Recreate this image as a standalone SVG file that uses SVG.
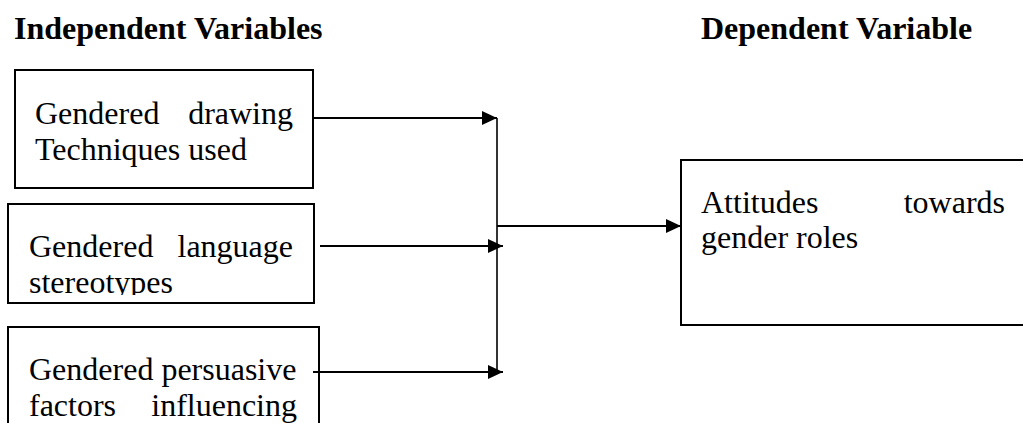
<svg xmlns="http://www.w3.org/2000/svg" width="1023" height="423" viewBox="0 0 1023 423">
  <style>
    .box { fill: #fff; stroke: #000; stroke-width: 2; }
    .txt { font-family: "Liberation Serif", "Times New Roman", serif; font-size: 32px; fill: #000; }
    .head { font-family: "Liberation Serif", "Times New Roman", serif; font-size: 32px; font-weight: bold; fill: #000; }
    .wire { fill: none; stroke: #000; stroke-width: 2; }
    .trunk { fill: none; stroke: #333; stroke-width: 2; }
  </style>
  <defs>
    <marker id="arrow" markerUnits="userSpaceOnUse" markerWidth="15" markerHeight="14" refX="15" refY="7" orient="auto">
      <path d="M0,0 L15,7 L0,14 z" fill="#000"/>
    </marker>
    <clipPath id="clip-language">
      <rect x="8" y="204" width="306" height="91"/>
    </clipPath>
  </defs>

  <rect width="1023" height="423" fill="#fff"/>

  <!-- column headings -->
  <text class="head" x="14" y="39">Independent Variables</text>
  <text class="head" x="701" y="39">Dependent Variable</text>

  <!-- independent variable: drawing techniques -->
  <g id="node-drawing">
    <rect class="box" x="15" y="70" width="298" height="118"/>
    <text class="txt" x="35" y="124">Gendered</text>
    <text class="txt" x="293" y="124" text-anchor="end">drawing</text>
    <text class="txt" x="35" y="160">Techniques used</text>
  </g>

  <!-- independent variable: language stereotypes -->
  <g id="node-language">
    <rect class="box" x="8" y="204" width="306" height="99"/>
    <g clip-path="url(#clip-language)">
      <text class="txt" x="29" y="257">Gendered</text>
      <text class="txt" x="293" y="257" text-anchor="end">language</text>
      <text class="txt" x="29" y="293">stereotypes</text>
    </g>
  </g>

  <!-- independent variable: persuasive factors -->
  <g id="node-persuasive">
    <rect class="box" x="8" y="327" width="311" height="110"/>
    <text class="txt" x="29" y="380">Gendered persuasive</text>
    <text class="txt" x="29" y="416">factors</text>
    <text class="txt" x="297" y="416" text-anchor="end">influencing</text>
  </g>

  <!-- dependent variable -->
  <g id="node-attitudes">
    <rect class="box" x="681" y="160" width="360" height="165"/>
    <text class="txt" x="701" y="213">Attitudes</text>
    <text class="txt" x="1005" y="213" text-anchor="end">towards</text>
    <text class="txt" x="701" y="248">gender roles</text>
  </g>

  <!-- connectors -->
  <g id="connectors">
    <line class="trunk" x1="497" y1="118" x2="497" y2="372"/>
    <line class="wire" x1="314" y1="118" x2="497" y2="118" marker-end="url(#arrow)"/>
    <line class="wire" x1="320" y1="246" x2="503" y2="246" marker-end="url(#arrow)"/>
    <line class="wire" x1="313" y1="372" x2="503" y2="372" marker-end="url(#arrow)"/>
    <line class="wire" x1="497" y1="226" x2="681" y2="226" marker-end="url(#arrow)"/>
  </g>
</svg>
